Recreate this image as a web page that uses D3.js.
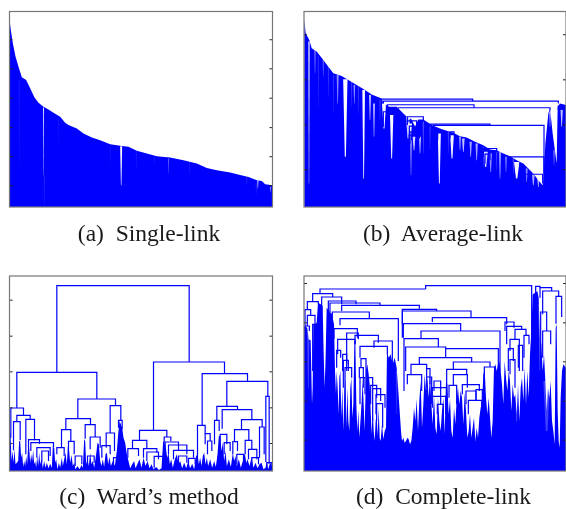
<!DOCTYPE html>
<html>
<head>
    <meta charset="utf-8">
    <script src="https://cdnjs.cloudflare.com/ajax/libs/d3/7.8.5/d3.min.js"></script>
    <style>
        html, body { margin: 0; background: white; }
        svg { display: block; filter: blur(0.35px); }
        .caption { font-family: "Liberation Serif", serif; font-size: 23.5px; fill: #1a1a1a; white-space: pre; }
    </style>
</head>
<body>
<script>
// All values are read off the picture. x = leaf rank, h = merge height (arbitrary units, axes have no labels)
// envelope rows: [x, h]   gap rows: [x, width, hTop, hBottom, opacity]   link rows: [xLeft, xRight, h, hLeftEnd, hRightEnd]

var captions = ["(a)  Single-link", "(b)  Average-link", "(c)  Ward\u2019s method", "(d)  Complete-link"];

var ticksA = [502, 415, 327, 239, 152, 65];
var ticksB = [517, 382, 247, 113];
var ticksC = [514, 406, 299, 191, 84];
var ticksD = [564, 446, 329, 211, 94];

var envelopeA = [[28,560],[32,530],[38,490],[46,450],[55,420],[65,388],[78,380],[90,355],[103,328],[115,312],[130,300],[145,292],[160,282],[180,270],[195,252],[205,245],[230,235],[250,220],[275,208],[300,200],[330,188],[360,183],[385,180],[410,168],[440,160],[470,152],[510,148],[550,140],[590,130],[620,117],[650,110],[690,103],[720,96],[745,90],[770,80],[785,78],[795,68],[817,65]];
var gapsA = [[130,3,298,95,.85],[132,2,95,5,.25],[363,6,182,65,.98],[57,2,380,120,.15],[505,3,145,100,.4],[773,5,80,55,.6],[768,2,70,40,.25],[811,4,60,45,.5],[175,2,265,190,.12],[330,2,185,120,.12],[408,2,168,110,.18],[462,2,150,130,.18],[568,2,135,95,.18],[740,2,90,65,.25]];
var linksA = [];

var envelopeB = [[63,560],[67,520],[78,500],[85,475],[100,465],[120,440],[135,420],[150,400],[175,392],[200,377],[225,362],[245,350],[265,337],[295,325],[300,310],[318,300],[340,300],[370,270],[385,262],[395,240],[405,262],[420,262],[445,245],[470,235],[490,228],[510,222],[530,212],[550,208],[575,195],[600,185],[620,172],[640,170],[660,160],[680,152],[700,140],[720,130],[735,115],[750,100],[765,80],[778,65],[780,75],[786,190],[795,280],[800,295],[808,220],[820,130],[823,300],[830,310],[848,305]];
var gapsB = [[77,4,495,70,.95],[95,6,470,400,.35],[120,5,440,390,.3],[135,3,420,330,.25],[163,6,395,310,.55],[186,13,382,150,.98],[213,5,365,310,.55],[241,8,350,85,.98],[260,6,335,260,.75],[272,6,310,210,.7],[302,12,310,235,.98],[325,10,275,145,.98],[374,12,270,205,.8],[380,12,250,195,.95],[392,8,210,170,.85],[383,5,200,95,.6],[410,6,210,160,.75],[468,9,220,70,.98],[506,11,215,145,.95],[530,6,210,170,.6],[540,8,205,165,.75],[562,7,195,150,.65],[580,7,190,140,.65],[607,13,165,120,.85],[622,8,160,105,.55],[650,7,165,85,.55],[668,6,150,105,.45],[700,16,135,85,.98],[730,6,115,75,.55],[750,9,100,65,.65],[765,7,85,60,.65],[835,7,290,240,.75],[812,6,170,125,.35],[800,5,285,240,.65],[105,3,450,300,.2],[150,3,395,280,.2],[205,3,375,300,.25],[225,3,360,280,.25],[290,3,320,260,.3],[420,4,255,160,.3],[440,3,245,170,.3],[495,3,225,160,.3],[600,3,180,120,.3],[640,3,165,110,.3],[690,4,145,100,.3]];
var linksB = [[295,568,323,325,317],[300,825,317,310,310],[312,572,306,298,297],[345,800,297,295,290],[825,848,302,290,290],[300,318,285,240,280],[440,620,248,240,244],[450,782,244,235,70],[680,782,150,148,100],[720,778,98,88,70],[372,420,270,255,260],[372,400,258,245,240],[378,392,242,210,225],[380,408,225,190,205],[378,400,215,190,195],[463,480,228,200,210],[500,512,225,205,215],[600,640,175,150,165],[605,620,158,130,140]];

var envelopeC = [[28,115],[31,115],[34,30],[37,60],[40,25],[43,65],[46,20],[50,25],[54,30],[57,90],[60,90],[63,40],[66,55],[69,12],[72,30],[75,15],[78,45],[81,20],[84,78],[87,70],[90,25],[93,50],[96,30],[99,62],[102,20],[105,30],[108,10],[111,45],[114,15],[117,55],[120,20],[124,35],[128,8],[132,30],[136,10],[140,25],[145,8],[150,22],[155,10],[158,75],[162,70],[165,25],[168,35],[172,5],[176,25],[180,10],[185,40],[188,15],[192,35],[196,55],[200,20],[203,72],[207,60],[210,25],[214,48],[218,15],[222,25],[226,5],[232,15],[238,5],[244,18],[248,10],[252,95],[255,90],[258,20],[262,35],[266,15],[270,55],[274,20],[278,30],[282,10],[288,50],[292,85],[296,80],[300,30],[304,15],[308,35],[312,12],[316,50],[320,55],[324,20],[328,42],[332,15],[338,30],[344,15],[350,60],[354,110],[358,150],[362,140],[366,130],[370,100],[375,85],[380,50],[385,30],[390,8],[396,20],[402,30],[406,8],[412,22],[418,35],[424,10],[430,40],[436,15],[442,30],[448,8],[454,20],[460,5],[468,12],[476,3],[484,8],[489,90],[493,85],[497,70],[501,40],[505,55],[509,20],[513,35],[518,10],[524,35],[530,50],[535,20],[540,30],[546,8],[552,25],[558,8],[564,28],[570,8],[576,22],[582,5],[588,45],[592,50],[596,20],[600,40],[604,15],[608,45],[612,55],[616,20],[620,40],[624,15],[630,35],[636,10],[642,30],[647,12],[652,50],[656,105],[660,105],[664,60],[668,85],[672,30],[676,60],[680,15],[686,35],[692,12],[698,55],[702,30],[706,45],[710,15],[716,35],[722,10],[728,30],[734,55],[738,25],[742,35],[748,15],[754,40],[760,10],[766,25],[772,8],[778,20],[784,25],[790,5],[796,10],[800,28],[804,5],[810,25],[817,12]];
var gapsC = [];
var linksC = [[170,567,556,296,327],[50,290,296,189,216],[32,70,189,100,167],[50,90,167,148,155],[40,60,148,62,92],[77,103,155,50,92],[233,346,216,157,196],[330,362,196,114,152],[318,343,114,70,60],[197,271,157,124,139],[255,285,139,97,102],[270,300,102,65,70],[184,212,124,70,89],[205,222,89,60,50],[85,118,94,70,82],[92,160,85,60,72],[110,150,70,40,45],[170,192,70,50,45],[305,330,76,40,50],[355,366,152,130,125],[460,673,327,122,292],[418,500,122,92,102],[397,440,92,67,67],[383,415,67,40,45],[430,470,67,40,55],[440,475,57,30,35],[462,490,44,10,20],[492,512,102,85,90],[495,535,87,70,60],[505,560,78,50,50],[520,580,62,35,40],[606,742,292,137,269],[592,615,137,32,112],[615,630,112,80,90],[622,635,90,50,60],[680,803,269,194,224],[797,807,224,27,22],[650,712,194,152,184],[643,657,152,80,120],[666,755,184,127,154],[724,786,154,124,132],[703,746,124,88,90],[778,792,132,40,50],[698,712,88,50,60],[735,755,92,50,65],[660,680,110,70,80],[672,690,85,50,60],[745,770,65,35,35],[800,815,25,5,15],[125,145,60,25,30],[225,245,45,15,20],[262,282,45,20,25],[340,352,40,20,30],[535,560,45,20,25],[565,585,38,15,20],[710,730,50,20,30],[755,775,40,15,20]];

var envelopeD = [[62,435],[72,430],[76,395],[82,392],[84,300],[86,200],[88,250],[90,440],[96,440],[100,445],[104,505],[112,500],[118,495],[121,350],[124,250],[127,350],[130,490],[138,480],[146,470],[152,440],[155,300],[158,230],[160,300],[163,250],[166,170],[168,280],[171,300],[174,160],[177,250],[180,120],[183,230],[186,280],[189,130],[192,250],[195,150],[198,120],[201,250],[204,280],[207,160],[210,200],[213,385],[216,395],[219,200],[222,120],[225,180],[228,100],[232,160],[235,210],[238,270],[241,200],[244,120],[248,300],[252,320],[256,290],[259,260],[262,180],[265,110],[268,190],[271,120],[274,90],[277,150],[280,170],[283,105],[286,190],[289,100],[292,90],[296,140],[300,95],[304,120],[308,130],[311,360],[316,340],[322,350],[328,320],[334,340],[340,310],[345,240],[349,180],[353,120],[356,90],[360,100],[364,85],[368,90],[372,100],[376,95],[380,80],[384,90],[388,130],[392,190],[396,150],[400,215],[404,120],[408,210],[412,270],[416,130],[420,200],[424,290],[428,240],[432,280],[436,220],[440,290],[444,200],[448,140],[452,230],[456,130],[460,110],[464,220],[468,150],[472,120],[476,180],[480,220],[484,110],[488,270],[492,260],[496,170],[500,215],[504,120],[508,100],[512,190],[516,140],[520,215],[524,250],[528,200],[532,240],[536,220],[540,140],[544,235],[548,180],[552,100],[556,120],[560,170],[564,100],[568,130],[572,160],[576,90],[580,130],[584,100],[588,160],[592,190],[596,200],[600,290],[604,305],[608,220],[612,170],[616,220],[620,160],[624,100],[628,150],[632,310],[636,320],[640,300],[644,320],[648,330],[652,300],[656,260],[660,200],[664,330],[668,280],[672,240],[676,300],[680,270],[684,180],[688,260],[692,220],[696,230],[700,170],[704,260],[708,150],[712,250],[716,280],[720,210],[724,310],[728,200],[732,300],[736,220],[740,350],[744,420],[748,530],[756,535],[762,540],[766,520],[770,400],[774,380],[778,300],[782,350],[786,270],[790,180],[794,250],[798,220],[802,270],[806,150],[810,120],[814,80],[817,430],[820,440],[823,180],[826,90],[829,70],[832,220],[836,300],[840,320],[848,310]];
var gapsD = [[75,8,430,250,.25],[125,4,480,300,.2],[790,20,270,120,.25],[700,12,300,150,.25],[770,10,500,300,.3],[340,6,300,170,.2]];
var linksD = [[427,745,556,546,330],[110,427,546,532,546],[88,148,532,508,522],[72,105,508,484,500],[65,82,484,435,467],[72,95,467,435,440],[66,78,435,415,420],[88,100,440,300,400],[115,175,522,480,500],[135,218,510,470,500],[140,290,504,477,497],[175,408,497,480,487],[357,460,485,440,480],[357,563,480,400,460],[147,258,477,300,457],[447,670,460,447,440],[170,345,457,437,330],[360,532,442,400,420],[413,650,420,397,300],[362,465,397,240,372],[367,487,372,300,367],[487,645,367,340,310],[408,565,340,320,327],[383,430,320,290,307],[510,620,327,305,312],[603,635,312,240,300],[490,550,305,250,290],[510,552,289,255,250],[372,415,289,260,240],[430,440,307,280,260],[430,445,282,250,200],[447,490,250,222,200],[497,520,257,220,200],[537,588,259,230,240],[548,578,240,200,210],[578,597,244,212,210],[555,595,212,170,150],[452,472,270,240,200],[447,487,224,190,170],[462,480,200,170,150],[152,222,427,395,400],[190,225,414,300,395],[215,285,407,380,385],[163,215,395,350,380],[272,327,390,370,260],[230,312,374,340,350],[160,172,362,310,340],[178,190,350,300,320],[233,248,337,310,280],[180,195,332,250,300],[185,205,310,200,280],[228,240,310,280,250],[230,245,280,200,230],[250,268,280,200,250],[262,280,257,200,220],[268,292,247,150,210],[278,305,229,170,190],[280,298,202,150,130],[757,770,554,400,550],[770,805,550,520,540],[778,826,540,470,524],[818,835,524,442,462],[772,790,477,300,420],[778,802,420,340,380],[665,692,447,420,430],[670,715,434,380,425],[695,728,425,395,405],[722,737,407,340,380],[680,708,395,360,300],[705,718,377,310,300],[675,690,367,300,330],[680,695,334,290,250]];

var blue = "#0000ff";
var svg = d3.select("body").append("svg").attr("width", 566).attr("height", 509);

// one dendrogram panel, box is [left, top, width, height]
function drawPanel(box, xDomain, ticks, envelope, gaps, links, caption, captionX, captionY) {
    var x = d3.scaleLinear().domain(xDomain).range([0, box[2]]);
    var y = d3.scaleLinear().domain([0, 585]).range([box[3], 0]);

    var g = svg.append("g").attr("transform", "translate(" + box[0] + "," + box[1] + ")");

    var area = d3.area()
        .x(d => x(d[0]))
        .y0(y(0))
        .y1(d => y(d[1]));

    g.append("path").datum(envelope).attr("fill", blue).attr("d", area);

    var line = d3.line().x(d => x(d[0])).y(d => y(d[1]));

    // white slits narrow towards the bottom
    g.selectAll(".gap").data(gaps).enter().append("path")
        .attr("class", "gap")
        .attr("fill", "white")
        .attr("opacity", d => d[4])
        .attr("d", d => line([[d[0] - d[1] / 2, d[2]], [d[0] + d[1] / 2, d[2]], [d[0] + d[1] / 8, d[3]], [d[0] - d[1] / 8, d[3]]]) + "Z");

    g.selectAll(".link").data(links).enter().append("path")
        .attr("class", "link")
        .attr("fill", "none")
        .attr("stroke", blue)
        .attr("stroke-width", 1.2)
        .attr("d", d => line([[d[0], d[3]], [d[0], d[2]], [d[1], d[2]], [d[1], d[4]]]));

    var left = d3.axisLeft(y).tickValues(ticks).tickSize(-3).tickFormat("");
    var right = d3.axisRight(y).tickValues(ticks).tickSize(-3).tickFormat("");
    var leftG = g.append("g").call(left);
    var rightG = g.append("g").attr("transform", "translate(" + box[2] + ",0)").call(right);
    leftG.select(".domain").remove();
    rightG.select(".domain").remove();
    leftG.selectAll("line").attr("stroke", "#222");
    rightG.selectAll("line").attr("stroke", "#222");

    g.append("rect")
        .attr("width", box[2])
        .attr("height", box[3])
        .attr("fill", "none")
        .attr("stroke", "#777")
        .attr("stroke-width", 1.2);

    svg.append("text")
        .attr("class", "caption")
        .attr("x", captionX)
        .attr("y", captionY)
        .attr("text-anchor", "middle")
        .text(caption);
}

drawPanel([9.5, 11.5, 263, 195.5], [28, 817], ticksA, envelopeA, gapsA, linksA, captions[0], 149, 240.5);
drawPanel([304, 11.5, 262, 195.5], [62, 848], ticksB, envelopeB, gapsB, linksB, captions[1], 443, 240.5);
drawPanel([9.5, 276, 263, 195], [28, 817], ticksC, envelopeC, gapsC, linksC, captions[2], 149, 504);
drawPanel([304, 276, 262, 195], [62, 848], ticksD, envelopeD, gapsD, linksD, captions[3], 443.5, 504);
</script>
</body>
</html>
